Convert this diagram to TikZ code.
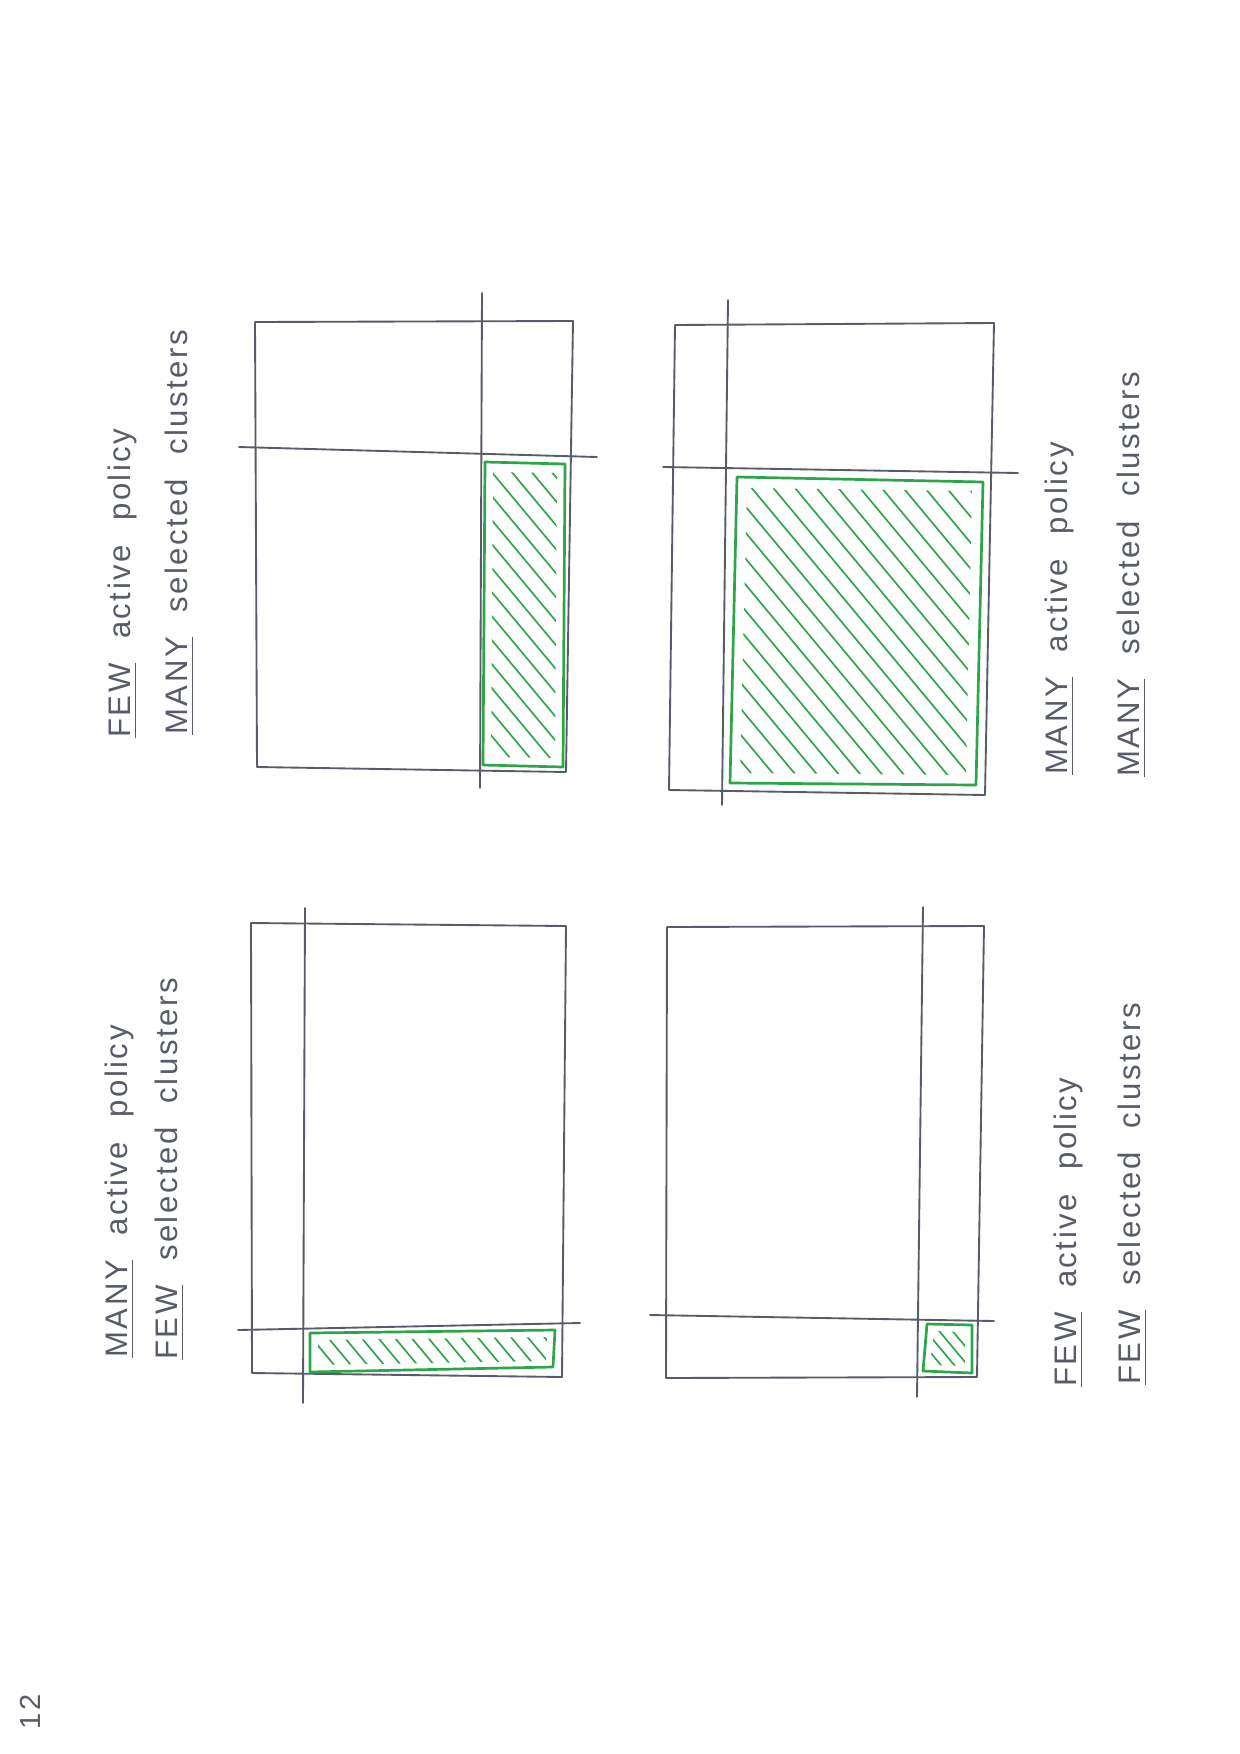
\documentclass[tikz,border=0pt]{standalone}
\usepackage{fontspec}
\newfontfamily\handfont[LetterSpace=8,WordSpace=2.2]{Liberation Sans}
\definecolor{pencilgray}{RGB}{88,92,104}
\definecolor{markergreen}{RGB}{44,166,72}
\newcommand\ulword[1]{\setbox0=\hbox{#1}\rlap{\rule[-3pt]{\wd0}{0.8pt}}\box0\relax}
\tikzset{
  % pencil lines of a panel
  pencil/.style = {draw=pencilgray, line width=0.9pt, line join=round,
                   line cap=round},
  % the selected block
  sel/.style    = {draw=markergreen, line width=1.3pt, line join=round},
  % its hatching
  hatch/.style  = {draw=markergreen, line width=0.8pt, line cap=round},
  % one line of a rotated caption
  lbl/.style    = {rotate=90, anchor=base west, inner sep=0pt,
                   text=pencilgray,
                   font=\handfont\fontsize{15}{17}\selectfont},
}

\begin{document}
\begin{tikzpicture}[x=0.16935mm, y=-0.16935mm]
  \useasboundingbox[fill=white] (0,0) rectangle (1240,1754);
  % --- few active, many selected ---
  \draw[pencil] (255,322) -- (573,321) -- (566,772) -- (257,767) -- cycle;
  \draw[pencil] (482,293) -- (480,788);
  \draw[pencil] (239,447) -- (597,457);
  \draw[sel] (485,462) -- (565,464) -- (563,767) -- (483,765) -- cycle;
  \begin{scope}
    \clip (493,472) -- (557,473) -- (555,758) -- (491,757) -- cycle;
    \foreach \c in {-214,-190,...,190}
      \draw[hatch] (480,{1.2*480+\c}) -- (570,{1.2*570+\c});
  \end{scope}
  \node[lbl] (fm1) at (130,738) {\ulword{FEW} active policy};
  \node[lbl] (fm2) at (187,735) {\ulword{MANY} selected clusters};
  % --- many active, many selected ---
  \draw[pencil] (675,325) -- (994,323) -- (985,795) -- (669,790) -- cycle;
  \draw[pencil] (728,300) -- (722,805);
  \draw[pencil] (663,467) -- (1018,473);
  \draw[sel] (737,477) -- (983,482) -- (976,785) -- (730,783) -- cycle;
  \begin{scope}
    \clip (747,488) -- (972,491) -- (966,775) -- (740,773) -- cycle;
    \foreach \c in {-700,-674,...,-90}
      \draw[hatch] (725,{1.2*725+\c}) -- (990,{1.2*990+\c});
  \end{scope}
  \node[lbl] (mm1) at (1067,775) {\ulword{MANY} active policy};
  \node[lbl] (mm2) at (1139,777) {\ulword{MANY} selected clusters};
  % --- many active, few selected ---
  \draw[pencil] (251,923) -- (566,926) -- (562,1377) -- (252,1373) -- cycle;
  \draw[pencil] (305,908) -- (303,1403);
  \draw[pencil] (238,1330) -- (580,1323);
  \draw[sel] (310,1333) -- (555,1330) -- (553,1367) -- (310,1372) -- cycle;
  \begin{scope}
    \clip (318,1340) -- (547,1337) -- (546,1361) -- (318,1365) -- cycle;
    \foreach \c in {664,684,...,1000}
      \draw[hatch] (305,{1.2*305+\c}) -- (560,{1.2*560+\c});
  \end{scope}
  \node[lbl] (mf1) at (127,1358) {\ulword{MANY} active policy};
  \node[lbl] (mf2) at (177,1360) {\ulword{FEW} selected clusters};
  % --- few active, few selected ---
  \draw[pencil] (667,927) -- (984,926) -- (977,1377) -- (666,1378) -- cycle;
  \draw[pencil] (923,907) -- (917,1397);
  \draw[pencil] (650,1315) -- (994,1321);
  \draw[sel] (927,1324) -- (972,1325) -- (972,1373) -- (923,1371) -- cycle;
  \begin{scope}
    \clip (934,1331) -- (965,1332) -- (965,1366) -- (930,1365) -- cycle;
    \foreach \c in {156,172,...,268}
      \draw[hatch] (920,{1.2*920+\c}) -- (975,{1.2*975+\c});
  \end{scope}
  \node[lbl] (ff1) at (1076,1387) {\ulword{FEW} active policy};
  \node[lbl] (ff2) at (1140,1385) {\ulword{FEW} selected clusters};
  % --- page number ---
  \node[rotate=90, text=pencilgray, font=\handfont\fontsize{14}{16}\selectfont]
    (pgno) at (30,1712) {12};
\end{tikzpicture}
\end{document}
